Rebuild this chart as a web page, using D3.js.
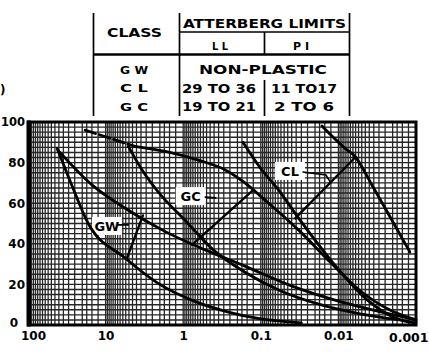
<!DOCTYPE html>
<html><head><meta charset="utf-8">
<script src="https://cdn.jsdelivr.net/npm/d3@7/dist/d3.min.js"></script>
<style>
html,body{margin:0;padding:0;background:#fff;}
svg{display:block;}
</style></head><body>
<svg id="c" width="429" height="360"></svg>
<script>
// ---------- data ----------
const xTickValues = [100, 10, 1, 0.1, 0.01, 0.001];
const xTickLabels = ["100", "10", "1", "0.1", "0.01", "0.001"];
const yTickValues = [0, 20, 40, 60, 80, 100];
const yTickLabels = ["0", "20", "40", "60", "80", "100"];

// grain size (mm) / percent finer
const gwLowerSize = [42, 27, 17, 5.6, 2.1, 0.75, 0.27, 0.1, 0.03];
const gwLowerPct  = [87, 68.5, 50.5, 33, 20.5, 12, 6.5, 3, 1];
const gwUpperSize = [41, 15, 5.6, 1.7, 0.52, 0.16, 0.042, 0.0095, 0.0025, 0.001];
const gwUpperPct  = [86, 69, 57.5, 46, 37, 29, 19.5, 11.5, 6, 2.5];
const gcUpperSize = [18.4, 8.8, 4.2, 1.7, 0.61, 0.29, 0.16, 0.088, 0.031, 0.0128, 0.0053, 0.0022, 0.001];
const gcUpperPct  = [96, 92, 88, 85.5, 81, 76.5, 70, 61.5, 46, 31, 17, 7.5, 2.5];
const gcLowerSize = [5.1, 3.4, 2.2, 0.89, 0.41, 0.16, 0.057, 0.017, 0.0053, 0.0016];
const gcLowerPct  = [88, 76.5, 66.5, 50.5, 37, 26, 17, 10, 5.5, 2.5];
const clUpperSize = [0.0163, 0.0082, 0.0061, 0.0037, 0.002, 0.0012];
const clUpperPct  = [98, 87, 83, 69, 51, 36];
const clLowerSize = [0.17, 0.102, 0.062, 0.031, 0.0117, 0.0043, 0.0016, 0.001];
const clLowerPct  = [90, 77.5, 67.5, 51.5, 30.5, 12.5, 2.5, 1];

// band connectors and label leaders
const gwConnSize = [5.3, 3.3];       const gwConnPct = [33, 54];
const gcConnSize = [0.77, 0.13];     const gcConnPct = [39.5, 66];
const clConnSize = [0.036, 0.0061];  const clConnPct = [52.5, 82.5];
const gwLeadSize = [6.9, 5.1];       const gwLeadPct = [49.3, 49.3];
const gcLeadSize = [0.52, 0.38];     const gcLeadPct = [63, 62.6];
const clLeadSize = [0.0286, 0.0145, 0.0125]; const clLeadPct = [75.4, 73.9, 70];

const bandLabels = ["GW", "GC", "CL"];
const bandLabelSize = [9.6, 0.8, 0.042];
const bandLabelPct  = [48.8, 63.5, 75.9];

// table
const tableClasses = ["G W", "C L", "G C"];
const tableLL = ["29 TO 36", "19 TO 21"];
const tablePI = ["11 TO17", "2 TO 6"];
const tableNonPlastic = "NON-PLASTIC";

// graph-paper subdivisions
const minorMultipliers = [1, 1.25, 1.5, 1.75, 2, 2.5, 3, 3.5, 4, 4.5, 5, 5.5, 6, 6.5, 7, 7.5, 8, 8.5, 9, 9.5];
const decades = [0.001, 0.01, 0.1, 1, 10];

// ---------- drawing ----------
const svg = d3.select("#c");
const x = d3.scaleLog().domain([100, 0.001]).range([28, 416]);
const y = d3.scaleLinear().domain([0, 100]).range([325, 122]);
const font = "'DejaVu Sans', sans-serif";

// grid
const vx = [];
decades.forEach(dec => minorMultipliers.forEach(m => vx.push(m * dec)));
vx.push(100);
const grid = svg.append("g");
grid.selectAll("line.v").data(vx).join("line")
  .attr("x1", d => x(d)).attr("x2", d => x(d))
  .attr("y1", y(0)).attr("y2", y(100))
  .attr("stroke", "#262626").attr("stroke-width", 1.3);
const hy = d3.range(0, 100.01, 2.5);
grid.selectAll("line.h").data(hy).join("line")
  .attr("x1", x(100)).attr("x2", x(0.001))
  .attr("y1", d => y(d)).attr("y2", d => y(d))
  .attr("stroke", "#262626").attr("stroke-width", 1.4);

// label backgrounds (paper cleared around lettering)
const bg = svg.append("g");
bandLabels.forEach((t, i) => {
  const cx = x(bandLabelSize[i]), cy = y(bandLabelPct[i]);
  bg.append("rect").attr("x", cx - 15).attr("y", cy - 9).attr("width", 30).attr("height", 18).attr("fill", "#fff");
});

// curves
const line = d3.line().x(d => x(d[0])).y(d => y(d[1])).curve(d3.curveMonotoneX);
const straight = d3.line().x(d => x(d[0])).y(d => y(d[1]));
const zip = (a, b) => a.map((v, i) => [v, b[i]]);
const curves = svg.append("g").attr("fill", "none").attr("stroke", "#000").attr("stroke-linecap", "round");

curves.append("path").attr("d", line(zip(gwLowerSize, gwLowerPct))).attr("stroke-width", 2.8);
curves.append("path").attr("d", line(zip(gwUpperSize, gwUpperPct))).attr("stroke-width", 2.8);
const gcU = zip(gcUpperSize, gcUpperPct);
curves.append("path").attr("d", line(gcU.slice(0, 3))).attr("stroke-width", 2.8).attr("stroke-dasharray", "11,4");
curves.append("path").attr("d", line(gcU.slice(2))).attr("stroke-width", 2.8);
curves.append("path").attr("d", line(zip(gcLowerSize, gcLowerPct))).attr("stroke-width", 2.8);
curves.append("path").attr("d", line(zip(clUpperSize, clUpperPct))).attr("stroke-width", 2.8);
curves.append("path").attr("d", line(zip(clLowerSize, clLowerPct))).attr("stroke-width", 2.8);

curves.append("path").attr("d", straight(zip(gwConnSize, gwConnPct))).attr("stroke-width", 2.3);
curves.append("path").attr("d", straight(zip(gcConnSize, gcConnPct))).attr("stroke-width", 2.3);
curves.append("path").attr("d", straight(zip(clConnSize, clConnPct))).attr("stroke-width", 2.3);
curves.append("path").attr("d", straight(zip(gwLeadSize, gwLeadPct))).attr("stroke-width", 1.6);
curves.append("path").attr("d", straight(zip(gcLeadSize, gcLeadPct))).attr("stroke-width", 1.6);
curves.append("path").attr("d", straight(zip(clLeadSize, clLeadPct))).attr("stroke-width", 1.6);

// band labels
bandLabels.forEach((t, i) => {
  svg.append("text").attr("x", x(bandLabelSize[i])).attr("y", y(bandLabelPct[i]))
    .attr("dy", "0.36em").attr("text-anchor", "middle")
    .attr("font-family", font).attr("font-weight", "bold").attr("font-size", 13)
    .text(t);
});

// frame
svg.append("rect").attr("x", x(100)).attr("y", y(100))
  .attr("width", x(0.001) - x(100)).attr("height", y(0) - y(100))
  .attr("fill", "none").attr("stroke", "#000").attr("stroke-width", 3);
svg.append("line").attr("x1", x(100) + 1).attr("x2", x(100) + 1).attr("y1", y(100) - 1.5).attr("y2", y(0) + 1.5)
  .attr("stroke", "#000").attr("stroke-width", 4);

// axes
const yAxis = d3.axisLeft(y).tickValues(yTickValues).tickSize(0).tickPadding(0)
  .tickFormat((d, i) => yTickLabels[i]);
const yg = svg.append("g").attr("transform", "translate(25,0)").call(yAxis);
yg.select(".domain").remove();
yg.selectAll("text").attr("font-family", font).attr("font-weight", "bold").attr("font-size", 12).attr("fill", "#000");
yg.selectAll(".tick").filter(d => d === 100).select("text").attr("font-size", 11.5);
yg.selectAll(".tick").filter(d => d === 0).select("text").attr("x", -7).attr("dy", "0.1em");

const xAxis = d3.axisBottom(x).tickValues(xTickValues).tickSize(0).tickPadding(0)
  .tickFormat((d, i) => xTickLabels[i]);
const xg = svg.append("g").attr("transform", "translate(0,331)").call(xAxis);
xg.select(".domain").remove();
xg.selectAll("text").attr("font-family", font).attr("font-weight", "bold").attr("font-size", 12).attr("fill", "#000");
xg.selectAll(".tick").filter(d => d === 100).select("text").attr("x", 5);
xg.selectAll(".tick").filter(d => d === 0.001).select("text")
  .attr("font-size", 12.5).attr("y", 2).attr("text-anchor", "end").attr("x", 12);

// table
const T = svg.append("g").attr("stroke", "#000").attr("fill", "none");
const tl = (x1, y1, x2, y2, w) => T.append("line").attr("x1", x1).attr("y1", y1).attr("x2", x2).attr("y2", y2).attr("stroke-width", w || 1.7);
tl(93.5, 13, 93.5, 116);
tl(179.5, 13, 179.5, 116);
tl(349.5, 13, 349.5, 116);
tl(179.5, 32, 349.5, 32);
tl(264.5, 32, 264.5, 54);
tl(93.5, 54.5, 349.5, 54.5, 2.6);
tl(264.5, 80, 264.5, 116);

const tt = (t, cx, cy, w, size) => svg.append("text").attr("x", cx).attr("y", cy).attr("dy", "0.36em")
  .attr("text-anchor", "middle").attr("font-family", font).attr("font-size", size || 12)
  .attr("font-weight", "bold")
  .attr("textLength", w).attr("lengthAdjust", "spacingAndGlyphs").attr("fill", "#000").text(t);
tt("CLASS", 134.5, 33, 55);
tt("ATTERBERG LIMITS", 264.5, 24, 163);
tt("L L", 220, 46, 16, 11);
tt("P I", 301, 46, 16, 11);
const rowY = [70, 88.5, 107];
tableClasses.forEach((c, i) => tt(c, 134, rowY[i], 28, 11));
tt(tableNonPlastic, 263, rowY[0], 128);
tableLL.forEach((t, i) => tt(t, 219, rowY[i + 1], 74));
tablePI.forEach((t, i) => tt(t, 304, rowY[i + 1], i === 0 ? 66 : 60));

svg.append("text").attr("x", 0).attr("y", 94).attr("font-family", font).attr("font-size", 12).attr("font-weight", "bold").text(")");
</script>
</body></html>
